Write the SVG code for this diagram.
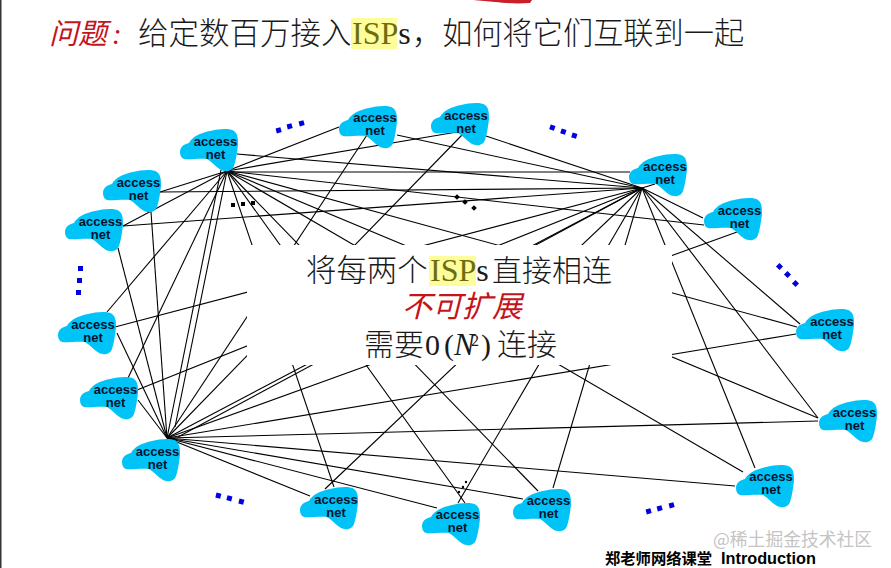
<svg xmlns="http://www.w3.org/2000/svg" width="891" height="568" viewBox="0 0 891 568">
<style>
.cl{fill:#00c3f7}
.an{font:bold 13px "Liberation Sans",Arial,sans-serif;fill:#00122c;text-anchor:middle}
#connectors line{stroke:#000;stroke-width:1.100}
.bd{fill:#0000e0}
.kd{fill:#000}
.cjk{font-family:"Liberation Serif","Noto Sans CJK SC",serif;font-weight:300;fill:#1a1a1a}
.red{font-family:"Liberation Serif","Noto Sans CJK SC",serif;font-style:italic;fill:#c4141c}
.hl{fill:#fdfd9c}
.isp{fill:#6d6d10}
</style>
<defs>
<path id="cloud" d="M0 23C0 18 4 15 9 14C12 8 20 4 30 2C38 0 50-1 54 2C58 5 58 10 58 16C57 24 56 31 54 37C52 43 45 43 41 41C36 38 32 33 27 30C20 29 8 31 4 30C1 29 0 26 0 23Z"/>
</defs>
<rect width="891" height="568" fill="#fff"/>
<rect x="0" y="0" width="1.500" height="568" fill="#333"/>
<path d="M473 0H532L530 3C515 4 505 3 495 2Z" fill="#c8202a"/>
<g id="connectors">
<line x1="227" y1="171" x2="160" y2="192"/>
<line x1="227" y1="171" x2="123" y2="226"/>
<line x1="227" y1="171" x2="339" y2="127"/>
<line x1="227" y1="171" x2="457" y2="132"/>
<line x1="227" y1="172" x2="630" y2="172"/>
<line x1="237" y1="154" x2="642" y2="188"/>
<line x1="160" y1="192" x2="642" y2="188"/>
<line x1="123" y1="226" x2="642" y2="188"/>
<line x1="227" y1="171" x2="704" y2="225"/>
<line x1="397" y1="135" x2="642" y2="188"/>
<line x1="486" y1="136" x2="642" y2="188"/>
<line x1="655" y1="184" x2="642" y2="188"/>
<line x1="703" y1="218" x2="642" y2="188"/>
<line x1="800" y1="324" x2="642" y2="188"/>
<line x1="818" y1="418" x2="642" y2="188"/>
<line x1="755" y1="468" x2="642" y2="188"/>
<line x1="227" y1="171" x2="797" y2="327"/>
<line x1="227" y1="171" x2="818" y2="418"/>
<line x1="227" y1="171" x2="334" y2="487"/>
<line x1="227" y1="171" x2="465" y2="503"/>
<line x1="227" y1="171" x2="538" y2="491"/>
<line x1="227" y1="171" x2="743" y2="472"/>
<line x1="367" y1="135" x2="167" y2="438"/>
<line x1="462" y1="135" x2="167" y2="438"/>
<line x1="117" y1="333" x2="167" y2="438"/>
<line x1="138" y1="400" x2="167" y2="438"/>
<line x1="118" y1="248" x2="167" y2="438"/>
<line x1="151" y1="212" x2="167" y2="438"/>
<line x1="221" y1="170" x2="167" y2="438"/>
<line x1="227" y1="171" x2="175" y2="427"/>
<line x1="227" y1="171" x2="128" y2="378"/>
<line x1="227" y1="171" x2="107" y2="312"/>
<line x1="115" y1="327" x2="642" y2="188"/>
<line x1="137" y1="390" x2="642" y2="188"/>
<line x1="167" y1="438" x2="642" y2="188"/>
<line x1="178" y1="437" x2="642" y2="188"/>
<line x1="167" y1="438" x2="737" y2="232"/>
<line x1="167" y1="438" x2="796" y2="334"/>
<line x1="167" y1="438" x2="818" y2="421"/>
<line x1="167" y1="438" x2="735" y2="486"/>
<line x1="167" y1="438" x2="523" y2="499"/>
<line x1="167" y1="438" x2="437" y2="508"/>
<line x1="167" y1="438" x2="310" y2="496"/>
<line x1="325" y1="489" x2="642" y2="188"/>
<line x1="458" y1="503" x2="642" y2="188"/>
<line x1="553" y1="488" x2="642" y2="188"/>
</g>
<rect x="247" y="245" width="425" height="120" fill="#fff"/>
<g id="net-1"><use href="#cloud" x="180" y="129" class="cl"/><text class="an" y="146"><tspan x="215.500">access</tspan><tspan x="215.500" dy="13">net</tspan></text></g>
<g id="net-2"><use href="#cloud" x="103" y="170" class="cl"/><text class="an" y="187"><tspan x="138.500">access</tspan><tspan x="138.500" dy="13">net</tspan></text></g>
<g id="net-3"><use href="#cloud" x="65" y="209" class="cl"/><text class="an" y="226"><tspan x="100.500">access</tspan><tspan x="100.500" dy="13">net</tspan></text></g>
<g id="net-4"><use href="#cloud" x="58" y="312" class="cl"/><text class="an" y="329"><tspan x="93">access</tspan><tspan x="93" dy="13">net</tspan></text></g>
<g id="net-5"><use href="#cloud" x="80" y="377" class="cl"/><text class="an" y="394"><tspan x="115.500">access</tspan><tspan x="115.500" dy="13">net</tspan></text></g>
<g id="net-6"><use href="#cloud" x="122" y="439" class="cl"/><text class="an" y="456"><tspan x="157.500">access</tspan><tspan x="157.500" dy="13">net</tspan></text></g>
<g id="net-7"><use href="#cloud" x="300" y="487" class="cl"/><text class="an" y="504"><tspan x="336">access</tspan><tspan x="336" dy="13">net</tspan></text></g>
<g id="net-8"><use href="#cloud" x="422" y="503" class="cl"/><text class="an" y="519"><tspan x="457.500">access</tspan><tspan x="457.500" dy="13">net</tspan></text></g>
<g id="net-9"><use href="#cloud" x="513" y="489" class="cl"/><text class="an" y="505"><tspan x="548.500">access</tspan><tspan x="548.500" dy="13">net</tspan></text></g>
<g id="net-10"><use href="#cloud" x="736" y="465" class="cl"/><text class="an" y="481"><tspan x="771">access</tspan><tspan x="771" dy="13">net</tspan></text></g>
<g id="net-11"><use href="#cloud" x="819" y="400" class="cl"/><text class="an" y="417"><tspan x="854.500">access</tspan><tspan x="854.500" dy="13">net</tspan></text></g>
<g id="net-12"><use href="#cloud" x="796" y="309" class="cl"/><text class="an" y="326"><tspan x="832">access</tspan><tspan x="832" dy="13">net</tspan></text></g>
<g id="net-13"><use href="#cloud" x="704" y="198" class="cl"/><text class="an" y="215"><tspan x="739.500">access</tspan><tspan x="739.500" dy="13">net</tspan></text></g>
<g id="net-14"><use href="#cloud" x="629" y="154" class="cl"/><text class="an" y="171"><tspan x="665">access</tspan><tspan x="665" dy="13">net</tspan></text></g>
<g id="net-15"><use href="#cloud" x="431" y="103" class="cl"/><text class="an" y="120"><tspan x="466">access</tspan><tspan x="466" dy="13">net</tspan></text></g>
<g id="net-16"><use href="#cloud" x="339" y="106" class="cl"/><text class="an" y="122"><tspan x="375">access</tspan><tspan x="375" dy="13">net</tspan></text></g>
<g id="dots">
<rect class="bd" x="276" y="128" width="5" height="5" transform="rotate(-15 278 130)"/><rect class="bd" x="287" y="124" width="5" height="5" transform="rotate(-15 289 126)"/><rect class="bd" x="299" y="121" width="5" height="5" transform="rotate(-15 301 123)"/>
<rect class="bd" x="550" y="125" width="5" height="5" transform="rotate(18 552 127)"/><rect class="bd" x="561" y="129" width="5" height="5" transform="rotate(18 563 131)"/><rect class="bd" x="572" y="133" width="5" height="5" transform="rotate(18 574 135)"/>
<rect class="bd" x="777" y="264" width="5" height="5" transform="rotate(45 779.500 266.500)"/><rect class="bd" x="785" y="272" width="5" height="5" transform="rotate(45 787.500 274.500)"/><rect class="bd" x="793" y="281" width="5" height="5" transform="rotate(45 795.500 283.500)"/>
<rect class="bd" x="78" y="266" width="5" height="5"/><rect class="bd" x="77" y="278" width="5" height="5"/><rect class="bd" x="76" y="290" width="5" height="5"/>
<rect class="bd" x="216" y="493" width="5" height="5" transform="rotate(15 218 495)"/><rect class="bd" x="227" y="496" width="5" height="5" transform="rotate(15 230 498)"/><rect class="bd" x="239" y="499" width="5" height="5" transform="rotate(15 241 501)"/>
<rect class="bd" x="646" y="509" width="5" height="5" transform="rotate(-15 648 511)"/><rect class="bd" x="657" y="506" width="5" height="5" transform="rotate(-15 659 508)"/><rect class="bd" x="669" y="503" width="5" height="5" transform="rotate(-15 671 505)"/>
<rect class="kd" x="231" y="203" width="4" height="4"/><rect class="kd" x="241" y="202" width="4" height="4"/><rect class="kd" x="251" y="201" width="4" height="4"/>
<rect class="kd" x="455" y="195" width="4" height="4" transform="rotate(45 457 197)"/><rect class="kd" x="463" y="200" width="4" height="4" transform="rotate(45 465 202)"/><rect class="kd" x="472" y="206" width="4" height="4" transform="rotate(45 474 208)"/>
<circle class="kd" cx="466" cy="482" r="1.200"/><circle class="kd" cx="463" cy="487" r="1.200"/><circle class="kd" cx="459" cy="492" r="1.200"/>
</g>
<g id="title">
<rect class="hl" x="351" y="18" width="46" height="31"/>
<text class="red" y="44" font-size="29"><tspan x="49">问题</tspan><tspan x="112">:</tspan></text>
<text class="cjk" y="44"><tspan x="138" font-size="30.500">给定数百万接入</tspan><tspan x="352" font-size="32" class="isp">ISP</tspan><tspan font-size="32">s</tspan><tspan x="412" font-size="30.200">，如何将它们互联到一起</tspan></text>
</g>
<g id="caption">
<rect class="hl" x="429" y="256" width="47" height="30"/>
<text class="cjk" y="281"><tspan x="306" font-size="30.400">将每两个</tspan><tspan x="430" font-size="32" class="isp">ISP</tspan><tspan font-size="32">s</tspan><tspan x="492" font-size="30">直接相连</tspan></text>
<text class="red" x="402" y="317" font-size="30">不可扩展</text>
<text class="cjk" y="355" font-size="30"><tspan x="364">需要</tspan><tspan x="425">0</tspan><tspan x="444">(</tspan><tspan x="454" font-size="31" font-style="italic">N</tspan><tspan x="471" dy="-9" font-size="16">2</tspan><tspan x="481" dy="9">)</tspan><tspan x="497">连接</tspan></text>
</g>
<g id="footer">
<text y="564" font-family="'Liberation Sans','Noto Sans CJK SC',sans-serif" font-weight="bold"><tspan x="605" font-size="15.300">郑老师网络课堂</tspan><tspan x="721" font-size="16.300">Introduction</tspan></text>
<text x="713" y="546" font-family="'Noto Sans CJK SC',sans-serif" font-size="17.800" fill="#c4c4c4">@稀土掘金技术社区</text>
</g>
</svg>
